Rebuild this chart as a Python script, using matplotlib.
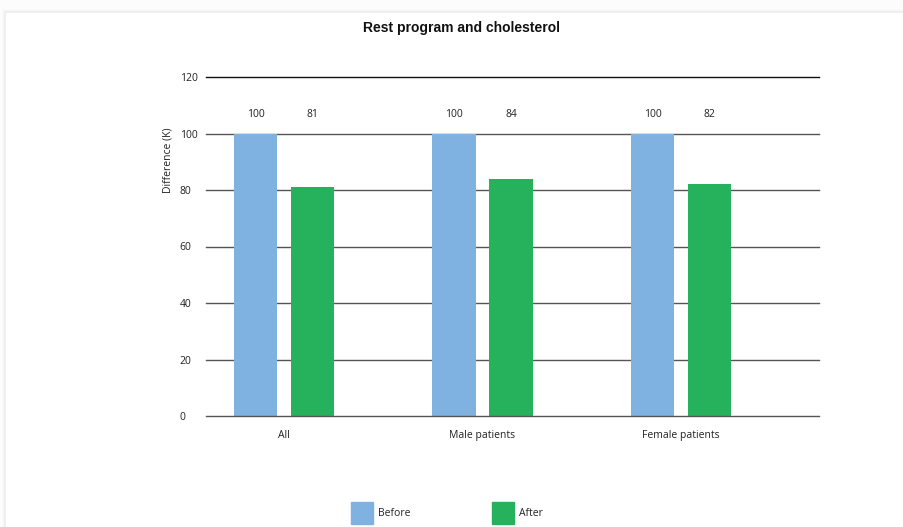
import matplotlib.pyplot as plt
from matplotlib.patches import Rectangle
import numpy as np

# data
categories = ["All", "Male patients", "Female patients"]
before = [100, 100, 100]
after = [81, 84, 82]
series_names = ["Before", "After"]
yticks = [0, 20, 40, 60, 80, 100, 120]

c_before = "#80b2e1"
c_after = "#26b25c"
txt = "#222222"

W, H = 904, 527
fig = plt.figure(figsize=(W / 100, H / 100), dpi=100, facecolor="#fcfcfc")

# white card with a soft shadow around its edge
for k, col in enumerate(["#f6f6f6", "#f1f1f1", "#ececec"]):
    d = 3 - k
    fig.patches.append(Rectangle(((6 - d) / W, 0), 1.0, 1 - (13 - d) / H,
                                 transform=fig.transFigure, color=col, zorder=0))
fig.patches.append(Rectangle((6 / W, 0), 1.0, 1 - 13 / H,
                             transform=fig.transFigure, color="white", zorder=0))

ax = fig.add_axes([206 / W, 1 - 416 / H, 613 / W, 339 / H])
ax.set_facecolor("none")
ax.set_zorder(2)

x = np.arange(len(categories))
w = 0.217
off = 0.1436
ax.bar(x - off, before, w, color=c_before, zorder=3)
ax.bar(x + off, after, w, color=c_after, zorder=3)

# value labels sit on a common line above the 100 gridline
for i in range(len(categories)):
    ax.text(x[i] - off, 106.8, str(before[i]), ha="center", va="center",
            fontsize=7.5, color=txt, family="Open Sans")
    ax.text(x[i] + off, 106.8, str(after[i]), ha="center", va="center",
            fontsize=7.5, color=txt, family="Open Sans")

for t in yticks:
    col = "#111111" if t == 120 else "#555555"
    ax.axhline(t, color=col, linewidth=1.0, zorder=1 if t else 4, clip_on=False)

ax.set_xlim(-0.393, 2.695)
ax.set_ylim(0, 120)
ax.set_yticks(yticks)
ax.set_yticklabels([str(t) for t in yticks], fontsize=7.5, color=txt,
                   family="Open Sans", ha="left")
ax.set_xticks(x)
ax.set_xticklabels(categories, fontsize=7.5, color=txt, family="Open Sans")
ax.tick_params(axis="both", length=0)
ax.tick_params(axis="y", pad=19)
ax.tick_params(axis="x", pad=10)
for s in ax.spines.values():
    s.set_visible(False)

fig.text(462 / W, 1 - 28 / H, "Rest program and cholesterol", ha="center",
         va="center", fontsize=10, fontweight="bold", color="#111111",
         family="Liberation Sans")
fig.text(168 / W, 1 - 160 / H, "Difference (K)", ha="center", va="center",
         rotation=90, fontsize=7.5, color=txt, family="Open Sans")

# legend
sq_w, sq_h = 22 / W, 22 / H
for lx, name, col in [(351, series_names[0], c_before), (492, series_names[1], c_after)]:
    fig.patches.append(Rectangle((lx / W, 1 - 524 / H), sq_w, sq_h,
                                 transform=fig.transFigure, color=col))
    fig.text((lx + 27) / W, 1 - 513 / H, name, ha="left", va="center",
             fontsize=7.5, color=txt, family="Open Sans")

fig.savefig("out.png", dpi=100, facecolor=fig.get_facecolor())
